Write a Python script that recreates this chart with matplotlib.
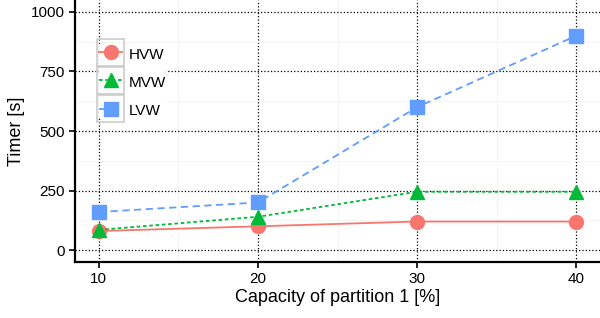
import matplotlib
matplotlib.use("Agg")

import matplotlib.pyplot as plt
from matplotlib.patches import Rectangle
from matplotlib.ticker import MultipleLocator

plt.rcParams["font.family"] = ["Liberation Sans", "DejaVu Sans"]

# Datos
capacidad = [10, 20, 30, 40]
hvw = [80, 100, 120, 120]
mvw = [85, 140, 245, 245]
lvw = [160, 200, 600, 900]

series = [
    ("HVW", hvw, "#F8766D", "o", "-"),
    ("MVW", mvw, "#00BA38", "^", (0, (2, 1.5))),
    ("LVW", lvw, "#619CFF", "s", (0, (4, 2.5))),
]

fig = plt.figure(figsize=(6, 3.18), dpi=100)
ax = fig.add_axes([0.125, 0.176, 0.875, 0.824])

for nombre, valores, color, marcador, estilo in series:
    ax.plot(capacidad, valores, color=color, ls=estilo, lw=1.3,
            marker=marcador, ms=10, mec=color, label=nombre)

ax.set_xlim(8.5, 41.5)
ax.set_ylim(-50, 1050)
ax.set_xticks(capacidad)
ax.set_yticks([0, 250, 500, 750, 1000])
ax.xaxis.set_minor_locator(MultipleLocator(5))
ax.yaxis.set_minor_locator(MultipleLocator(125))
ax.grid(which="major", color="black", ls=":", lw=0.9)
ax.grid(which="minor", color="#f5f5f5", ls="-", lw=0.8)
ax.set_axisbelow(True)

for lado in ["top", "right"]:
    ax.spines[lado].set_visible(False)
for lado in ["left", "bottom"]:
    ax.spines[lado].set_linewidth(1.6)
    ax.spines[lado].set_color("black")

ax.tick_params(which="major", direction="out", length=4, width=1.2,
               labelsize=11, colors="black")
ax.tick_params(which="minor", length=0)

ax.set_xlabel("Capacity of partition 1 [%]", fontsize=13, labelpad=2)
ax.set_ylabel("Timer [s]", fontsize=13, labelpad=4)

leg = ax.legend(loc="upper left", bbox_to_anchor=(0.046, 0.826),
                fontsize=11, frameon=True, fancybox=False, handlelength=1.5,
                handleheight=1.3, borderpad=0.0, labelspacing=0.75,
                handletextpad=0.45, borderaxespad=0, framealpha=1,
                facecolor="white", edgecolor="none")

# cajitas grises alrededor de cada clave (estilo ggplot)
fig.canvas.draw()
renderer = fig.canvas.get_renderer()
for h in leg.legend_handles:
    bb = h.get_window_extent(renderer)
    cx, cy = (bb.x0 + bb.x1) / 2, (bb.y0 + bb.y1) / 2
    lado = 27
    x0, y0 = fig.transFigure.inverted().transform((cx - lado / 2, cy - lado / 2))
    w, hh = lado / fig.bbox.width, lado / fig.bbox.height
    fig.add_artist(Rectangle((x0, y0), w, hh, transform=fig.transFigure,
                             fill=False, ec="#cccccc", lw=1.2, zorder=1))

fig.savefig("out.png", dpi=100)
